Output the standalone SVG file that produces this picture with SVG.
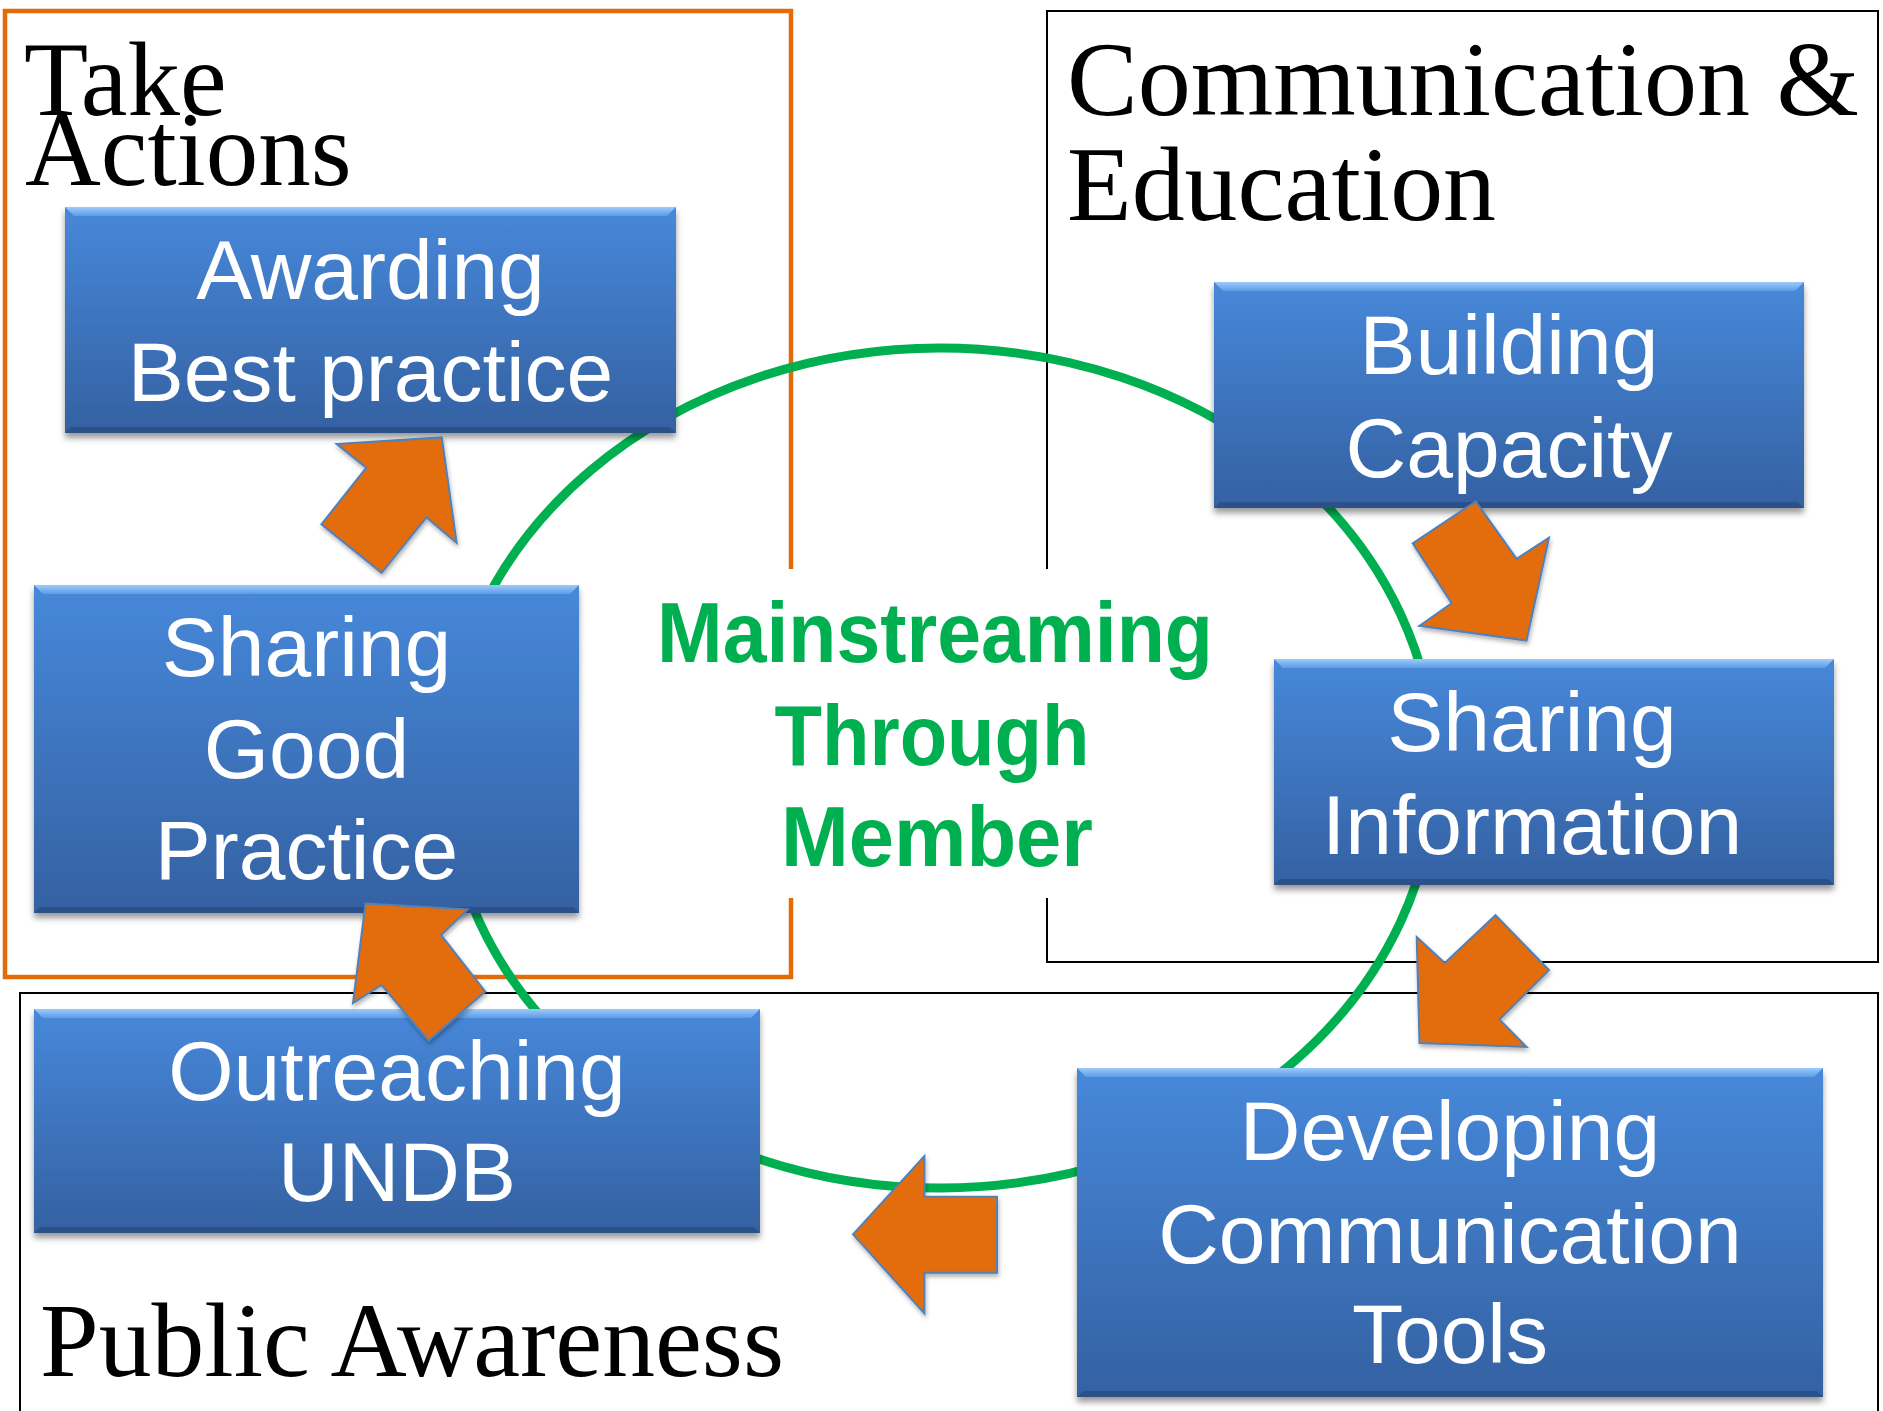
<svg xmlns="http://www.w3.org/2000/svg" width="1883" height="1411" viewBox="0 0 1883 1411">
<defs>
<linearGradient id="gBox" x1="0" y1="0" x2="0" y2="1">
<stop offset="0" stop-color="#4788DA"/>
<stop offset="1" stop-color="#3461A2"/>
</linearGradient>
<linearGradient id="gTop" x1="0" y1="0" x2="0" y2="1">
<stop offset="0" stop-color="#9CCBFA"/>
<stop offset="1" stop-color="#5C9CE6"/>
</linearGradient>
<filter id="sh" x="-5%" y="-5%" width="110%" height="115%">
<feDropShadow dx="0" dy="5" stdDeviation="3" flood-color="#000" flood-opacity="0.4"/>
</filter>
<filter id="ash" x="-10%" y="-10%" width="125%" height="125%">
<feDropShadow dx="1" dy="3" stdDeviation="2" flood-color="#000" flood-opacity="0.3"/>
</filter>
<style>
.box{fill:url(#gBox);filter:url(#sh)}
.bt{fill:url(#gTop)}
.bb{fill:#2C5089}
.lbl{font-family:"Liberation Sans",Arial,sans-serif;font-size:84px;fill:#FFFFFF;text-anchor:middle}
.ttl{font-family:"Liberation Serif","Times New Roman",serif;font-size:105px;fill:#000000}
.mid{font-family:"Liberation Sans",Arial,sans-serif;font-size:86px;font-weight:bold;fill:#00B050;text-anchor:middle}
.arr{fill:#E36C0A;stroke:#4F81BD;stroke-width:2;stroke-linejoin:miter;filter:url(#ash)}
.ring{fill:none;stroke:#00B050;stroke-width:9}
</style>
</defs>
<rect width="1883" height="1411" fill="#FFFFFF"/>

<g id="frames">
<path d="M791,569 V11 H5 V977 H791 V898" fill="none" stroke="#E36C0A" stroke-width="4.5"/>
<path d="M1047,569 V11 H1878 V962 H1047 V898" fill="none" stroke="#000000" stroke-width="2"/>
<path d="M20,1420 V993 H1878 V1420" fill="none" stroke="#000000" stroke-width="2"/>
</g>

<g id="titles">
<text class="ttl" x="24" y="115">Take</text>
<text class="ttl" x="25" y="185">Actions</text>
<text class="ttl" x="1067" y="115" textLength="792" lengthAdjust="spacingAndGlyphs">Communication &amp;</text>
<text class="ttl" x="1067" y="220" textLength="429" lengthAdjust="spacingAndGlyphs">Education</text>
<text class="ttl" x="40" y="1376" textLength="744" lengthAdjust="spacingAndGlyphs">Public Awareness</text>
</g>

<g id="cycle-ring">
<ellipse class="ring" cx="940" cy="768" rx="495" ry="420"/>
</g>

<g id="center-label">
<text class="mid" x="935" y="661.5" textLength="556" lengthAdjust="spacingAndGlyphs">Mainstreaming</text>
<text class="mid" x="932" y="765" textLength="315" lengthAdjust="spacingAndGlyphs">Through</text>
<text class="mid" x="937" y="866" textLength="312" lengthAdjust="spacingAndGlyphs">Member</text>
</g>

<g id="node-awarding">
<rect class="box" x="65" y="207" width="611" height="226"/>
<path class="bt" d="M65,207 h611 l-9,9 h-593 z"/>
<path class="bb" d="M65,433 h611 l-6,-6 h-599 z"/>
<text class="lbl" x="370.5" y="298.5">Awarding</text>
<text class="lbl" x="370.5" y="400.7">Best practice</text>
</g>

<g id="node-sharing-good-practice">
<rect class="box" x="34" y="585" width="545" height="328"/>
<path class="bt" d="M34,585 h545 l-9,9 h-527 z"/>
<path class="bb" d="M34,913 h545 l-6,-6 h-533 z"/>
<text class="lbl" x="306.5" y="676">Sharing</text>
<text class="lbl" x="306.5" y="778">Good</text>
<text class="lbl" x="306.5" y="879">Practice</text>
</g>

<g id="node-outreaching">
<rect class="box" x="34" y="1009" width="726" height="224"/>
<path class="bt" d="M34,1009 h726 l-9,9 h-708 z"/>
<path class="bb" d="M34,1233 h726 l-6,-6 h-714 z"/>
<text class="lbl" x="397" y="1100">Outreaching</text>
<text class="lbl" x="397" y="1201">UNDB</text>
</g>

<g id="node-building-capacity">
<rect class="box" x="1214" y="282" width="590" height="226"/>
<path class="bt" d="M1214,282 h590 l-9,9 h-572 z"/>
<path class="bb" d="M1214,508 h590 l-6,-6 h-578 z"/>
<text class="lbl" x="1509" y="374">Building</text>
<text class="lbl" x="1509" y="476.5">Capacity</text>
</g>

<g id="node-sharing-information">
<rect class="box" x="1274" y="659" width="560" height="226"/>
<path class="bt" d="M1274,659 h560 l-9,9 h-542 z"/>
<path class="bb" d="M1274,885 h560 l-6,-6 h-548 z"/>
<text class="lbl" x="1532" y="750.5">Sharing</text>
<text class="lbl" x="1532" y="853.5">Information</text>
</g>

<g id="node-developing-tools">
<rect class="box" x="1077" y="1068" width="746" height="329"/>
<path class="bt" d="M1077,1068 h746 l-9,9 h-728 z"/>
<path class="bb" d="M1077,1397 h746 l-6,-6 h-734 z"/>
<text class="lbl" x="1450" y="1160">Developing</text>
<text class="lbl" x="1450" y="1263">Communication</text>
<text class="lbl" x="1450" y="1363">Tools</text>
</g>

<g id="connectors">
<polygon class="arr" points="336.7,444 441.8,437.4 456.6,542.7 426.5,517.4 381.6,572.9 321.4,524.3 366.3,467.7"/>
<polygon class="arr" points="1412.7,543.4 1475.8,501.3 1516.6,558.8 1549,537.7 1526.5,640.6 1419.5,625.8 1451.6,603.3"/>
<polygon class="arr" points="1416.7,937.1 1444.8,963 1495.5,915.2 1549,970.1 1499.4,1019.5 1526.5,1047 1419.5,1043.1"/>
<polygon class="arr" points="853,1234.3 924.4,1156 924.4,1196.7 997,1196.7 997,1272.7 924.4,1272.7 924.4,1313.3"/>
<polygon class="arr" points="365.5,903.6 467.8,909.3 441.2,935 485.3,991.5 428.6,1040.7 381.6,985 353,1003"/>
</g>
</svg>
